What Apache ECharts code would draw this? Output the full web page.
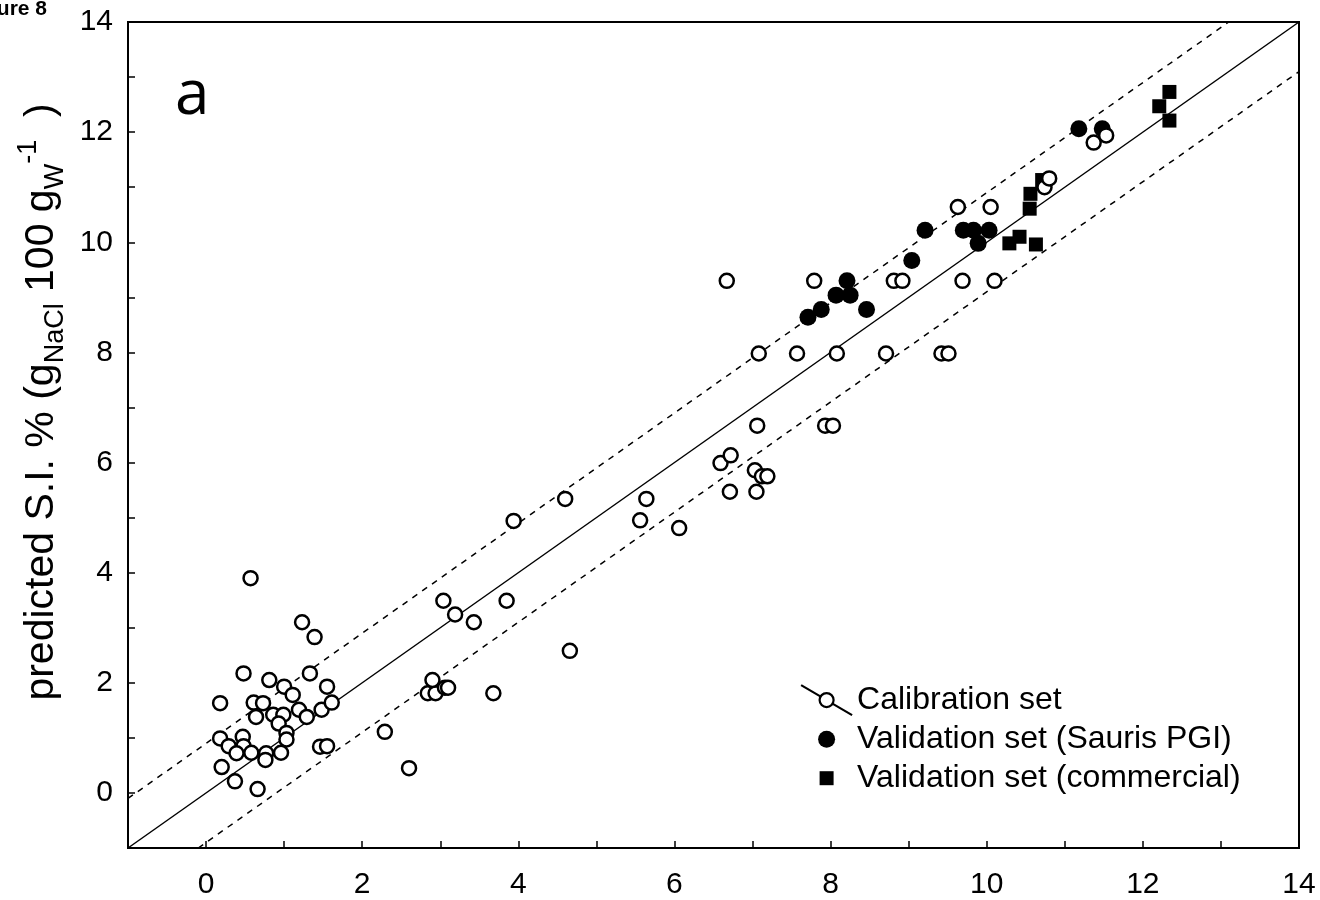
<!DOCTYPE html>
<html>
<head>
<meta charset="utf-8">
<script src="https://cdn.jsdelivr.net/npm/echarts@6/dist/echarts.min.js"></script>
<style>
  html, body { margin: 0; padding: 0; background: #fff; }
  #chart { width: 1320px; height: 900px; }
</style>
</head>
<body>
<div id="chart"></div>
<script>
// calibration set (open circles)
const calibX = [
  0.57, 1.23, 1.39, 0.48, 0.81, 1.00, 1.11, 1.33, 1.55, 0.18,
  0.61, 0.73, 0.64, 0.86, 0.99, 1.19, 1.29, 1.48, 1.61, 0.93,
  1.03, 1.03, 0.18, 0.29, 0.47, 0.48, 0.39, 0.58, 0.77, 0.96,
  0.76, 0.20, 0.37, 0.66, 1.46, 1.55, 2.29, 2.60,
  2.84, 2.94, 2.90, 3.06, 3.10, 3.04, 3.19, 3.43, 3.68, 3.85,
  3.94, 4.60, 4.66, 5.56, 5.64, 6.06, 6.59, 6.72, 6.71, 7.03,
  7.12, 7.19, 7.05, 7.06, 7.93, 8.03, 6.67, 7.79, 8.81, 8.92,
  9.69, 10.10, 7.08, 7.57, 8.08, 8.71, 9.42, 9.51, 9.63, 10.05,
  10.74, 10.80, 11.37, 11.53
];
const calibY = [
  3.90, 3.10, 2.83, 2.17, 2.05, 1.93, 1.78, 2.17, 1.93, 1.63,
  1.64, 1.63, 1.38, 1.42, 1.42, 1.51, 1.38, 1.51, 1.64, 1.26,
  1.09, 0.97, 0.99, 0.85, 1.02, 0.85, 0.72, 0.73, 0.72, 0.73,
  0.60, 0.47, 0.21, 0.07, 0.84, 0.85, 1.11, 0.45,
  1.81, 1.81, 2.05, 1.91, 1.91, 3.49, 3.24, 3.10, 1.81, 3.49,
  4.94, 5.34, 2.58, 4.95, 5.34, 4.81, 5.99, 6.13, 5.47, 5.86,
  5.75, 5.75, 5.47, 6.67, 6.67, 6.67, 9.30, 9.30, 9.30, 9.30,
  9.30, 9.30, 7.98, 7.98, 7.98, 7.98, 7.98, 7.98, 10.64, 10.64,
  11.00, 11.16, 11.81, 11.94
];

// validation set, Sauris PGI (filled circles)
const saurisX = [7.71, 7.88, 8.07, 8.21, 8.25, 8.46, 9.04, 9.21, 9.70, 9.83, 9.89, 10.03, 11.18, 11.48];
const saurisY = [8.64, 8.78, 9.04, 9.30, 9.04, 8.78, 9.67, 10.22, 10.22, 10.22, 9.98, 10.22, 12.06, 12.06];

// validation set, commercial (filled squares)
const commX = [10.29, 10.42, 10.63, 10.55, 10.56, 10.71, 12.21, 12.34, 12.34];
const commY = [9.98, 10.10, 9.96, 10.61, 10.88, 11.13, 12.47, 12.73, 12.21];

// 1:1 line and the +/- 0.9 band
const oneToOne = [[-1, -1], [14, 14]];
const upperBand = [[-1, -0.1], [13.1, 14]];
const lowerBand = [[-0.1, -1], [14, 13.1]];

const axisMin = -1;
const axisMax = 14;

const zip = (xs, ys) => xs.map((x, i) => [x, ys[i]]);
const font = 'Liberation Sans, Arial, sans-serif';

const chart = echarts.init(document.getElementById('chart'), null, { renderer: 'canvas' });

const axisCommon = {
  type: 'value',
  min: axisMin,
  max: axisMax,
  interval: 1,
  splitLine: { show: false },
  axisLine: { show: true, onZero: false, lineStyle: { color: '#000', width: 2 } },
  axisTick: { show: true, inside: true, length: 7, lineStyle: { color: '#000', width: 1.5 } },
  axisLabel: {
    color: '#000',
    fontFamily: font,
    fontSize: 30,
    formatter: v => (v % 2 === 0 ? String(v) : '')
  }
};

const option = {
  backgroundColor: '#fff',
  animation: false,
  grid: {
    left: 128, right: 21, top: 22, bottom: 52,
    show: true, borderColor: '#000', borderWidth: 2
  },
  xAxis: Object.assign({}, axisCommon, {
    axisLabel: Object.assign({}, axisCommon.axisLabel, { margin: 22 })
  }),
  yAxis: Object.assign({}, axisCommon, {
    axisLabel: Object.assign({}, axisCommon.axisLabel, { margin: 15 })
  }),
  legend: {
    orient: 'vertical',
    left: 795,
    top: 679,
    itemWidth: 51,
    itemHeight: 30,
    itemGap: 7,
    textStyle: { color: '#000', fontFamily: font, fontSize: 32 },
    data: [
      {
        name: 'Calibration set',
        icon: 'path://M0,0L20.5,12M30.5,18L51,30M32.5,15A7,7,0,1,1,18.5,15A7,7,0,1,1,32.5,15Z',
        itemStyle: { color: '#fff', borderColor: '#000', borderWidth: 2.2 }
      },
      {
        name: 'Validation set (Sauris PGI)',
        icon: 'path://M0,0M51,30M34,15A8.5,8.5,0,1,1,17,15A8.5,8.5,0,1,1,34,15Z',
        itemStyle: { color: '#000', borderWidth: 0 }
      },
      {
        name: 'Validation set (commercial)',
        icon: 'path://M0,0M51,30M18.5,8H32.5V22H18.5Z',
        itemStyle: { color: '#000', borderWidth: 0 }
      }
    ]
  },
  series: [
    {
      type: 'line', data: oneToOne, showSymbol: false, silent: true, z: 1,
      lineStyle: { color: '#000', width: 1.5, type: 'solid' }
    },
    {
      type: 'line', data: upperBand, showSymbol: false, silent: true, z: 1,
      lineStyle: { color: '#000', width: 1.5, type: [6, 6] }
    },
    {
      type: 'line', data: lowerBand, showSymbol: false, silent: true, z: 1,
      lineStyle: { color: '#000', width: 1.5, type: [6, 6] }
    },
    {
      name: 'Validation set (Sauris PGI)',
      type: 'scatter',
      data: zip(saurisX, saurisY),
      symbol: 'circle',
      symbolSize: 17,
      z: 3,
      itemStyle: { color: '#000', opacity: 1 }
    },
    {
      name: 'Validation set (commercial)',
      type: 'scatter',
      data: zip(commX, commY),
      symbol: 'rect',
      symbolSize: 14,
      z: 3,
      itemStyle: { color: '#000', opacity: 1 }
    },
    {
      name: 'Calibration set',
      type: 'scatter',
      data: zip(calibX, calibY),
      symbol: 'circle',
      symbolSize: 14,
      z: 4,
      itemStyle: { color: '#fff', borderColor: '#000', borderWidth: 2.5, opacity: 1 }
    }
  ],
  graphic: [
    {
      type: 'text',
      x: 42,
      y: 402,
      rotation: Math.PI / 2,
      style: {
        text: '{a|predicted S.I. % (g}{s|NaCl}{a| 100 g}{s|W}{p|-1}{a|  )}',
        align: 'center',
        verticalAlign: 'middle',
        rich: {
          a: { fontFamily: font, fontSize: 41, lineHeight: 54, fill: '#000' },
          s: { fontFamily: font, fontSize: 27, lineHeight: 54, verticalAlign: 'bottom', fill: '#000' },
          p: { fontFamily: font, fontSize: 27, lineHeight: 54, verticalAlign: 'top', fill: '#000' }
        }
      }
    },
    {
      type: 'text',
      x: 175,
      y: 96,
      style: {
        text: 'a',
        fontFamily: 'Open Sans, sans-serif',
        fontSize: 62,
        fill: '#000',
        align: 'left',
        verticalAlign: 'middle'
      }
    },
    {
      type: 'text',
      x: 47,
      y: 9,
      style: {
        text: 'Figure 8',
        fontFamily: font,
        fontWeight: 'bold',
        fontSize: 21,
        fill: '#000',
        align: 'right',
        verticalAlign: 'middle'
      }
    }
  ]
};

chart.setOption(option);
window.addEventListener('resize', chart.resize);
</script>
</body>
</html>
